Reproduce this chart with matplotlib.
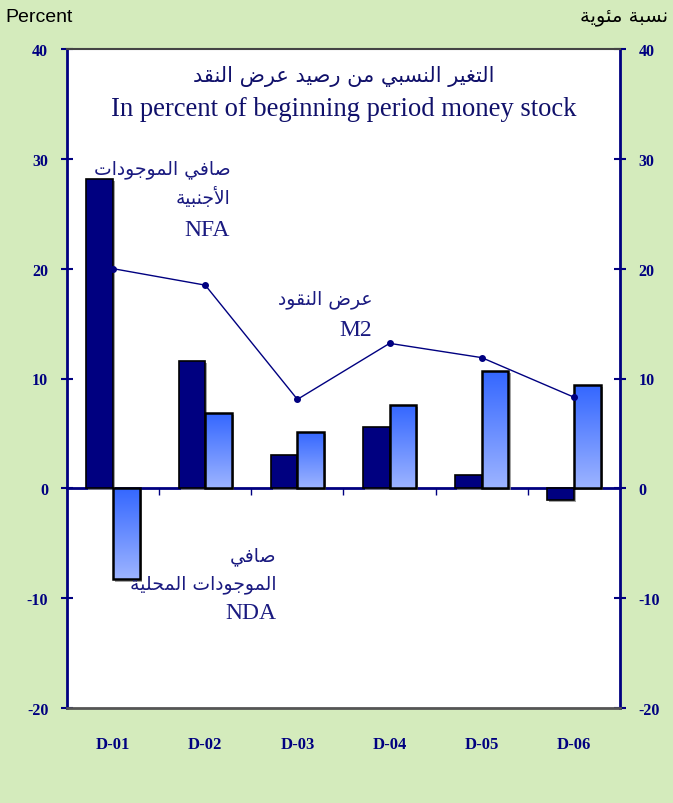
"""
Money supply change chart (NFA / NDA / M2), percent of beginning-period money stock.
Output: out.png
"""
import numpy as np
import matplotlib; matplotlib.use("Agg"); import matplotlib.pyplot as plt
from matplotlib.colors import LinearSegmentedColormap
import matplotlib.patheffects as pe

# ---- data ----
periods = ["D-01", "D-02", "D-03", "D-04", "D-05", "D-06"]
nfa = [28.2, 11.6, 3.0, 5.6, 1.2, -1.1]
nda = [-8.3, 6.9, 5.1, 7.6, 10.7, 9.4]
m2 = [20.0, 18.5, 8.1, 13.2, 11.9, 8.3]
yticks = [-20, -10, 0, 10, 20, 30, 40]

NAVY = "#000080"
GREEN = "#d4ebbc"
plt.rcParams["axes.unicode_minus"] = False

# very small Arabic shaper: matplotlib draws no contextual forms / RTL,
# so map letters to presentation forms and reverse for display
FORMS = {
    "ا": (0xFE8D, 0xFE8E), "أ": (0xFE83, 0xFE84), "د": (0xFEA9, 0xFEAA),
    "ر": (0xFEAD, 0xFEAE), "و": (0xFEED, 0xFEEE), "ة": (0xFE93, 0xFE94),
}
for ch, base in [("ب", 0xFE8F), ("ت", 0xFE95), ("ج", 0xFE9D), ("ح", 0xFEA1),
                 ("س", 0xFEB1), ("ص", 0xFEB9), ("ض", 0xFEBD), ("ع", 0xFEC9),
                 ("غ", 0xFECD), ("ف", 0xFED1), ("ق", 0xFED5), ("ل", 0xFEDD),
                 ("م", 0xFEE1), ("ن", 0xFEE5), ("ي", 0xFEF1), ("ئ", 0xFE89)]:
    FORMS[ch] = (base, base+1, base+2, base+3)   # isol, final, init, medial

def ar(s):
    out, i, n, prev = [], 0, len(s), False
    while i < n:
        c = s[i]
        if c not in FORMS:
            out.append(c); prev = False; i += 1; continue
        if c == "ل" and i+1 < n and s[i+1] in "اأ":
            lig = (0xFEFB, 0xFEFC) if s[i+1] == "ا" else (0xFEF7, 0xFEF8)
            out.append(chr(lig[1] if prev else lig[0])); prev = False; i += 2; continue
        f = FORMS[c]
        nxt = i+1 < n and s[i+1] in FORMS
        if len(f) == 4 and nxt:
            k = 3 if prev else 2
        else:
            k = 1 if prev else 0
        out.append(chr(f[k])); prev = len(f) == 4; i += 1
    return "".join(reversed(out))

ARF = ["DejaVu Sans"]
SERIF = "Liberation Serif"

fig = plt.figure(figsize=(6.73, 8.04), dpi=100, facecolor=GREEN)
ax = fig.add_axes([67/673, 1-709/804, (620-67)/673, (709-50)/804])
ax.set_facecolor("white")

x = np.arange(len(periods))
w = 0.29
shadow = pe.SimplePatchShadow(offset=(1.5, -1.5), shadow_rgbFace="0.55", alpha=0.8)
b1 = ax.bar(x - w/2, nfa, w, color=NAVY, edgecolor="black", lw=1.2, zorder=3)
for b in b1:
    b.set_path_effects([shadow, pe.Normal()])
# NDA: shadow only, then gradient, then black outline on top
sh = ax.bar(x + w/2, nda, w, facecolor="none", edgecolor="none", zorder=3.2)
for b in sh:
    b.set_path_effects([shadow])
b2 = ax.bar(x + w/2, nda, w, facecolor="none", edgecolor="black", lw=1.8, zorder=4)

cmap = LinearSegmentedColormap.from_list("nda", ["#3366ff", "#9db4ff"])
grad = np.linspace(0, 1, 256).reshape(-1, 1)
for b in b2:
    x0, y0 = b.get_x(), b.get_y()
    x1, y1 = x0 + b.get_width(), y0 + b.get_height()
    im = ax.imshow(grad, extent=[x0, x1, min(y0, y1), max(y0, y1)], origin="upper",
                   cmap=cmap, aspect="auto", zorder=3.5)
    im.set_clip_path(b)

ax.plot(x, m2, "-o", color=NAVY, lw=1, ms=4, zorder=5)

ax.set_xlim(-0.5, len(periods) - 0.5)
ax.set_ylim(yticks[0], yticks[-1])
ax.set_yticks(yticks)
ax.set_xticks(x)
ax.set_xticklabels(periods, fontfamily=SERIF, fontweight="bold", fontsize=12, color=NAVY)
ax.tick_params(axis="x", length=0, pad=20)
ax.tick_params(axis="y", direction="inout", length=9, width=1.5, color=NAVY,
               labelsize=11.5, labelcolor=NAVY, right=True, labelright=True, pad=9)
for t in ax.yaxis.get_major_ticks():
    for lab in (t.label1, t.label2):
        lab.set_fontfamily(SERIF); lab.set_fontweight("bold")

for s in ("left", "right"):
    ax.spines[s].set_color(NAVY); ax.spines[s].set_linewidth(2)
ax.spines["top"].set_color("#444444"); ax.spines["top"].set_linewidth(1.5)
ax.spines["bottom"].set_color("#555555"); ax.spines["bottom"].set_linewidth(2)

# zero line with category-boundary ticks
zpos = (0 - yticks[0]) / (yticks[-1] - yticks[0])
sec = ax.secondary_xaxis(zpos)
sec.set_xticks(x[:-1] + 0.5)
sec.set_xticklabels([])
sec.tick_params(length=5, width=1, color=NAVY, direction="out")
sec.spines["bottom"].set_color(NAVY); sec.spines["bottom"].set_linewidth(2)

# texts
fig.text(5/673, 1-17/804, "Percent", fontsize=14, family="Liberation Sans", va="center")
fig.text(668/673, 1-17/804, ar("نسبة مئوية"), fontsize=14, family=ARF, ha="right", va="center")

tc = "#10106a"
ax.text(0.5, 0.960, ar("التغير النسبي من رصيد عرض النقد"), transform=ax.transAxes,
        ha="center", va="center", fontsize=15, family=ARF, color=tc)
ax.text(0.5, 0.910, "In percent of beginning period money stock", transform=ax.transAxes,
        ha="center", va="center", fontsize=19.2, family=SERIF, color=tc)

lc = "#1a1a80"
def lbl(xd, ys, lines):
    for yd, (s, fam) in zip(ys, lines):
        ax.text(xd, yd, s, ha="right", va="center", fontsize=17 if fam == SERIF else 13.5,
                family=fam, color=lc, zorder=6)

lbl(1.27, [29.1, 26.6, 23.6], [(ar("صافي الموجودات"), ARF), (ar("الأجنبية"), ARF), ("NFA", SERIF)])
lbl(2.81, [17.3, 14.5], [(ar("عرض النقود"), ARF), ("M2", SERIF)])
lbl(1.77, [-6.1, -8.7, -11.3], [(ar("صافي"), ARF), (ar("الموجودات المحلية"), ARF), ("NDA", SERIF)])

fig.savefig("out.png", dpi=100, facecolor=GREEN)
